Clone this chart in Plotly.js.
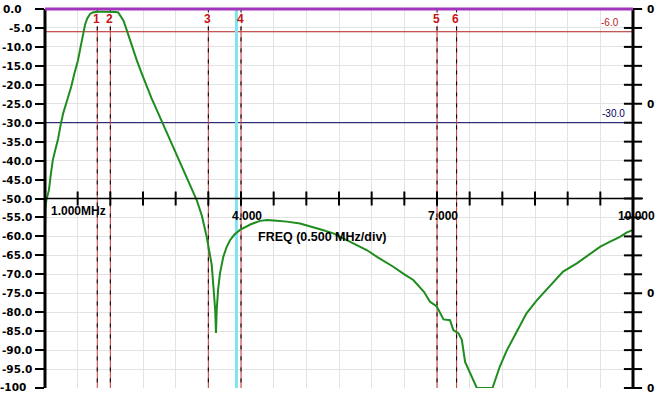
<!DOCTYPE html>
<html>
<head>
<meta charset="utf-8">
<script src="https://cdn.plot.ly/plotly-3.0.1.min.js"></script>
<style>
  html, body { margin: 0; padding: 0; background: #ffffff; }
  #chart { width: 668px; height: 402px; }
</style>
</head>
<body>
<div id="chart"></div>
<script>
// ---- data ----
const freqMHz = [1.000, 1.005, 1.02, 1.06, 1.09, 1.12, 1.16, 1.20, 1.24, 1.28, 1.34, 1.40, 1.45, 1.505, 1.545,
  1.582, 1.615, 1.647, 1.69, 1.73, 1.80, 1.90, 2.00, 2.08, 2.12, 2.16, 2.20, 2.25, 2.30, 2.35, 2.404, 2.48,
  2.557, 2.63, 2.71, 2.79, 2.863, 2.913, 3.00, 3.092, 3.20, 3.322, 3.40, 3.475, 3.552, 3.585, 3.605, 3.617,
  3.628, 3.65, 3.679, 3.729, 3.78, 3.832, 3.90, 3.985, 4.035, 4.15, 4.291, 4.40, 4.547, 4.70, 4.903, 5.10,
  5.25, 5.413, 5.60, 5.75, 5.924, 6.10, 6.331, 6.50, 6.637, 6.80, 6.89, 6.996, 7.04, 7.10, 7.20, 7.25, 7.33,
  7.38, 7.43, 7.51, 7.61, 7.85, 7.96, 8.07, 8.22, 8.37, 8.53, 8.65, 8.78, 8.93, 9.14, 9.32, 9.50, 9.65, 9.80,
  9.90, 10.0];
const gainDb = [-58.0, -53.0, -50.5, -47.8, -43.5, -39.8, -37.0, -34.3, -30.5, -27.4, -24.0, -20.6, -17.0, -13.5, -10.0,
  -6.3, -4.0, -2.5, -1.3, -0.9, -0.7, -0.7, -0.7, -0.8, -0.9, -1.8, -3.0, -5.5, -8.2, -10.8, -13.5, -17.0,
  -20.5, -23.5, -26.6, -29.7, -32.6, -34.6, -38.2, -41.5, -45.5, -50.4, -54.5, -60.1, -67.5, -74.0, -79.4, -85.5,
  -79.4, -74.0, -69.7, -65.4, -62.8, -61.0, -59.5, -58.3, -57.9, -56.8, -55.9, -55.7, -55.9, -56.1, -56.6, -57.5,
  -58.3, -59.2, -60.8, -62.1, -63.6, -65.6, -68.0, -70.0, -71.5, -74.6, -77.2, -78.5, -80.0, -81.9, -82.1, -84.7, -85.6,
  -87.3, -93.1, -96.1, -100, -100, -94.4, -90.0, -85.1, -80.3, -76.8, -74.5, -72.0, -69.3, -67.1, -64.8, -62.7, -61.4, -60.1,
  -59.0, -58.3];

const yTickVals = [0, -5, -10, -15, -20, -25, -30, -35, -40, -45, -50, -55, -60, -65, -70, -75, -80, -85, -90, -95, -100];
const yTickLabels = ['0.0', '-5.0', '-10.0', '-15.0', '-20.0', '-25.0', '-30.0', '-35.0', '-40.0', '-45.0', '-50.0',
  '-55.0', '-60.0', '-65.0', '-70.0', '-75.0', '-80.0', '-85.0', '-90.0', '-95.0', '-100'];
const rightLabelVals = [0, -25, -75, -100];
const rightLabels = ['0', '0', '0', '0'];
const freqTickVals = [1.5, 2.0, 2.5, 3.0, 3.5, 4.0, 4.5, 5.0, 5.5, 6.0, 6.5, 7.0, 7.5, 8.0, 8.5, 9.0, 9.5];
const freqLabelVals = [4, 7, 10];
const freqLabels = ['4.000', '7.000', '10.000'];
const startLabel = '1.000MHz';
const freqTitle = 'FREQ (0.500 MHz/div)';
const markerFreqs = [1.8, 2.0, 3.5, 4.0, 7.0, 7.3];
const markerNames = ['1', '2', '3', '4', '5', '6'];
const cursorFreq = 3.93;
const refLevels = [-6, -30];
const refLabels = ['-6.0', '-30.0'];
const refColors = ['#b42222', '#000060'];
const axisLevel = -50;

// ---- build ----
const shapes = [];
const annotations = [];
const boldFont = {family: 'Liberation Sans, Arial, sans-serif', size: 12, color: '#000000', weight: 'bold'};
const axFont = {family: 'DejaVu Sans, sans-serif', size: 10.5, color: '#000000', weight: 'bold'};

// reference lines
refLevels.forEach((lv, i) => {
  shapes.push({type: 'line', layer: 'between', xref: 'x', yref: 'y', x0: 1, x1: 10, y0: lv, y1: lv,
    line: {color: refColors[i], width: 1}});
  annotations.push({xref: 'x', yref: 'y', x: 9.97, y: lv, text: refLabels[i], showarrow: false,
    xanchor: 'right', yanchor: 'bottom', yshift: 2, xshift: i === 0 ? -10 : -4,
    font: {family: 'Liberation Sans, Arial, sans-serif', size: 10, color: refColors[i]}});
});

// marker lines (start below their number labels)
markerFreqs.forEach((f, i) => {
  shapes.push({type: 'line', layer: 'between', xref: 'x', yref: 'y', x0: f, x1: f, y0: -4.6, y1: -100,
    line: {color: '#c23a3a', width: 1}});
  shapes.push({type: 'line', layer: 'between', xref: 'x', yref: 'y', x0: f, x1: f, y0: -4.6, y1: -100,
    line: {color: '#000000', width: 1, dash: '4px,7px'}});
  shapes.push({type: 'line', layer: 'between', xref: 'x', yref: 'y', x0: f, x1: f, y0: 0, y1: -0.9,
    line: {color: '#000000', width: 1}});
  annotations.push({xref: 'x', yref: 'y', x: f, y: -2.7, text: markerNames[i], showarrow: false,
    xanchor: 'center', yanchor: 'middle', xshift: -1,
    font: {family: 'Liberation Sans, Arial, sans-serif', size: 12, color: '#c81414', weight: 'bold'}});
});

// cursor line
shapes.push({type: 'line', layer: 'between', xref: 'x', yref: 'y', x0: cursorFreq, x1: cursorFreq, y0: 0, y1: -100,
  line: {color: '#80e4ee', width: 3}});

// axes (paper x-ref so the thick lines are not clipped in half)
shapes.push({type: 'line', layer: 'above', xref: 'paper', yref: 'y', x0: 0, x1: 0, y0: 0, y1: -100,
  line: {color: '#000000', width: 3}});
shapes.push({type: 'line', layer: 'above', xref: 'paper', yref: 'y', x0: 1, x1: 1, y0: 0, y1: -100,
  line: {color: '#000000', width: 3}});
shapes.push({type: 'line', layer: 'above', xref: 'paper', yref: 'y', x0: 0, x1: 1.017, y0: axisLevel, y1: axisLevel,
  line: {color: '#000000', width: 1.5}});
shapes.push({type: 'line', layer: 'above', xref: 'x', yref: 'paper', x0: 1, x1: 10, y0: 1, y1: 1,
  line: {color: '#a334bd', width: 3}});

// left labels
yTickVals.forEach((v, i) => {
  const lbl = yTickLabels[i];
  let shift = -11;
  if (lbl.indexOf('-') < 0) shift = -21;
  else if (lbl.indexOf('.') < 0) shift = -17;
  annotations.push({xref: 'paper', yref: 'y', x: 0, y: v, text: lbl, showarrow: false,
    xanchor: 'right', yanchor: 'middle', xshift: shift, yshift: v <= -100 ? 1 : 0, font: axFont});
});
// right labels
rightLabelVals.forEach((v, i) => {
  annotations.push({xref: 'paper', yref: 'y', x: 1, y: v, text: rightLabels[i], showarrow: false,
    xanchor: 'center', yanchor: 'middle', xshift: 17, font: axFont});
});
// frequency labels
annotations.push({xref: 'x', yref: 'y', x: 1, y: -53.4, text: startLabel, showarrow: false,
  xanchor: 'left', yanchor: 'middle', xshift: 4, font: boldFont});
freqLabelVals.forEach((f, i) => {
  annotations.push({xref: 'x', yref: 'y', x: f, y: -54.5, text: freqLabels[i], showarrow: false,
    xanchor: 'left', yanchor: 'middle', xshift: f >= 10 ? -17 : -11, font: boldFont});
});
annotations.push({xref: 'x', yref: 'y', x: 5.255, y: -60.2, text: freqTitle, showarrow: false,
  xanchor: 'center', yanchor: 'middle', font: {family: 'Liberation Sans, Arial, sans-serif', size: 12.5, color: '#000000', weight: 'bold'}});

const traces = [
  {x: freqMHz, y: gainDb, type: 'scatter', mode: 'lines', line: {color: '#1e8c1e', width: 2},
    hoverinfo: 'skip', cliponaxis: false},
  {x: freqTickVals, y: freqTickVals.map(() => axisLevel), type: 'scatter', mode: 'markers',
    marker: {symbol: 'line-ns-open', size: 10, color: '#000000', line: {color: '#000000', width: 2}}, hoverinfo: 'skip', cliponaxis: false},
  {x: yTickVals.map(() => 10), y: yTickVals, type: 'scatter', mode: 'markers',
    marker: {symbol: 'line-ew-open', size: 13, color: '#000000', line: {color: '#000000', width: 2}}, hoverinfo: 'skip', cliponaxis: false}
];

const layout = {
  width: 668, height: 402,
  margin: {l: 45, r: 35, t: 9, b: 14, pad: 0},
  paper_bgcolor: '#ffffff', plot_bgcolor: '#ffffff',
  showlegend: false,
  xaxis: {range: [1, 10], dtick: 0.5, tick0: 1, showgrid: true, gridcolor: '#e3e3e3', gridwidth: 1,
    zeroline: false, showline: false, showticklabels: false, ticks: '', fixedrange: true},
  yaxis: {range: [-100, 0], dtick: 5, tick0: 0, showgrid: true, gridcolor: '#e3e3e3', gridwidth: 1,
    zeroline: false, showline: false, showticklabels: false, ticks: 'outside', ticklen: 9, tickwidth: 2,
    tickcolor: '#000000', fixedrange: true},
  shapes: shapes,
  annotations: annotations
};

Plotly.newPlot('chart', traces, layout, {staticPlot: true, displayModeBar: false});
</script>
</body>
</html>
